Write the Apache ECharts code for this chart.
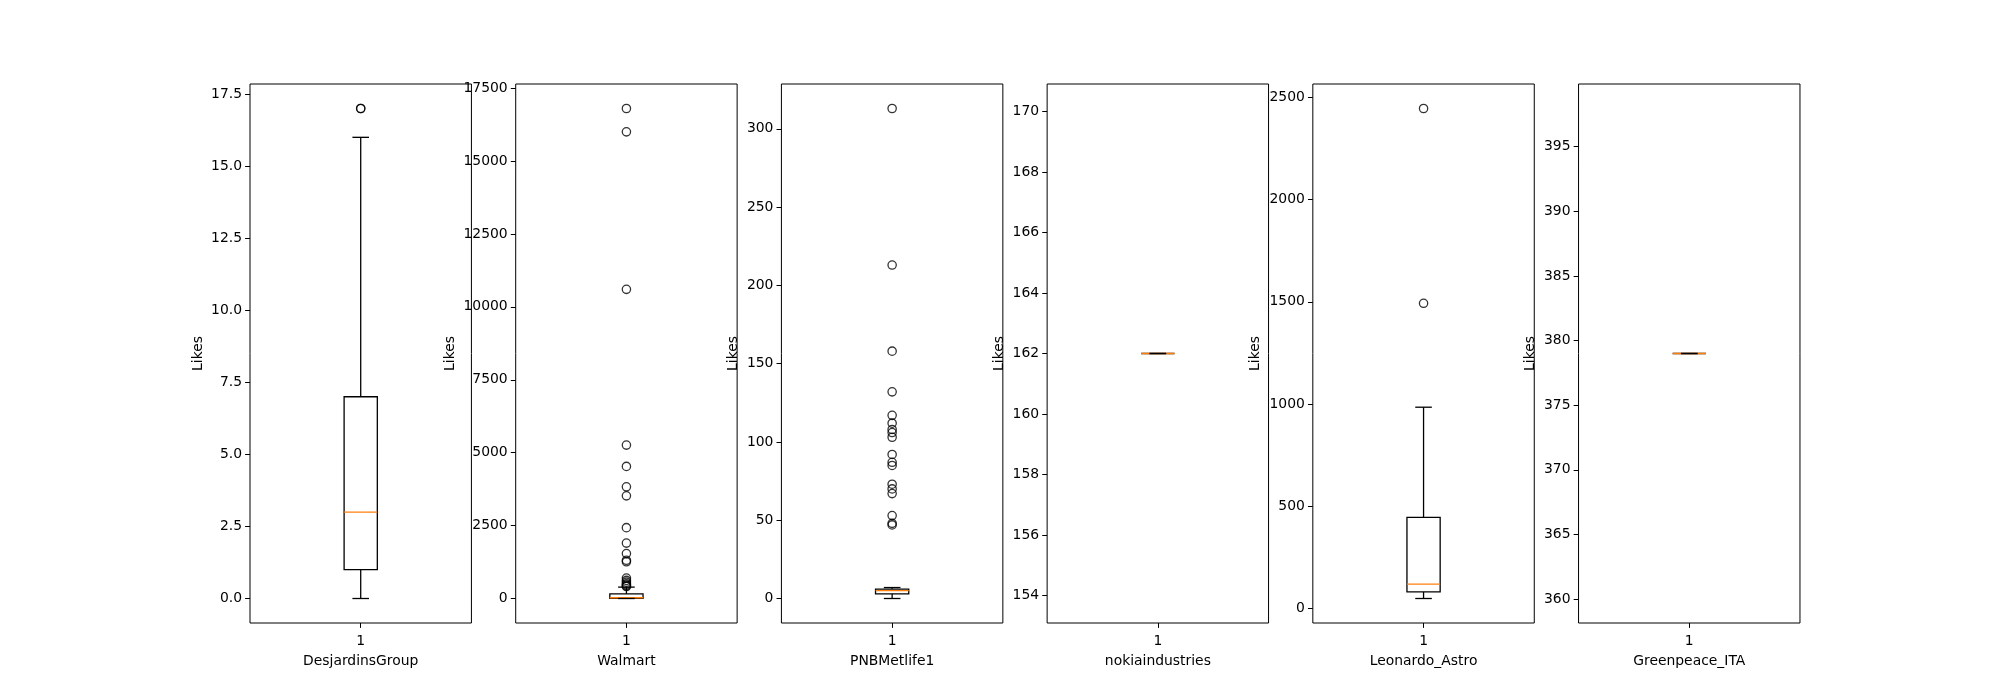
<!DOCTYPE html>
<html><head><meta charset="utf-8">
<script src="https://cdn.jsdelivr.net/npm/echarts@6/dist/echarts.min.js"></script>
<style>html,body{margin:0;padding:0;background:#fff}#c{width:2000px;height:700px}</style>
</head><body><div id="c"></div>
<script>
// ---- data ----
const accounts = ['DesjardinsGroup', 'Walmart', 'PNBMetlife1', 'nokiaindustries', 'Leonardo_Astro', 'Greenpeace_ITA'];
const xCategory = ['1'];
// box stats: [lower whisker, Q1, median, Q3, upper whisker]
const desjardinsBox = [0, 1, 3, 7, 16];
const desjardinsOutliers = [17, 17];
const walmartBox = [0, 5, 25, 160, 390];
const walmartOutliers = [16800, 16000, 10600, 5260, 4530, 3830, 3520, 2430, 1900, 1540, 1310, 1260, 700, 620, 560, 500, 460, 430, 410];
const pnbBox = [0, 3, 5, 6, 7];
const pnbOutliers = [313, 213, 158, 132, 117, 112, 108, 106, 103, 92, 87, 85, 73, 70, 67, 53, 48, 47];
const nokiaBox = [162, 162, 162, 162, 162];
const nokiaOutliers = [];
const leonardoBox = [50, 82, 120, 447, 985];
const leonardoOutliers = [2445, 1493];
const greenpeaceBox = [379, 379, 379, 379, 379];
const greenpeaceOutliers = [];
// y tick labels
const desjardinsTicks = [0, 2.5, 5, 7.5, 10, 12.5, 15, 17.5];
const walmartTicks = [0, 2500, 5000, 7500, 10000, 12500, 15000, 17500];
const pnbTicks = [0, 50, 100, 150, 200, 250, 300];
const nokiaTicks = [154, 156, 158, 160, 162, 164, 166, 168, 170];
const leonardoTicks = [0, 500, 1000, 1500, 2000, 2500];
const greenpeaceTicks = [360, 365, 370, 375, 380, 385, 390, 395];
const tickDecimals = [1, 0, 0, 0, 0, 0];
const yLabel = 'Likes';

const boxes = [desjardinsBox, walmartBox, pnbBox, nokiaBox, leonardoBox, greenpeaceBox];
const outliers = [desjardinsOutliers, walmartOutliers, pnbOutliers, nokiaOutliers, leonardoOutliers, greenpeaceOutliers];
const ticks = [desjardinsTicks, walmartTicks, pnbTicks, nokiaTicks, leonardoTicks, greenpeaceTicks];

// ---- layout ----
const FONT = 'DejaVu Sans';
const FS = 13.9;
const gridLeft0 = 250, gridW = 221.43, gridStep = 265.71, gridTop = 84, gridH = 539;
const yNameGaps = [45, 58, 41, 41, 50, 41];

function limits(box, outs) {
  const all = box.concat(outs);
  let lo = Math.min(...all), hi = Math.max(...all);
  if (lo === hi) { lo -= 0.05 * Math.abs(lo); hi += 0.05 * Math.abs(hi); }
  const m = (hi - lo) * 0.05;
  return [lo - m, hi + m];
}

function renderBox(params, api) {
  const x = api.value(0);
  const lo = api.coord([x, api.value(1)]);
  const q1 = api.coord([x, api.value(2)]);
  const md = api.coord([x, api.value(3)]);
  const q3 = api.coord([x, api.value(4)]);
  const hi = api.coord([x, api.value(5)]);
  const w = api.size([1, 0])[0] * 0.15;
  const cx = lo[0];
  const blk = {stroke: '#000', lineWidth: 1.3, fill: null};
  return {type: 'group', children: [
    {type: 'rect', shape: {x: cx - w / 2, y: q3[1], width: w, height: q1[1] - q3[1]}, style: {stroke: '#000', lineWidth: 1.3, fill: 'transparent'}},
    {type: 'line', shape: {x1: cx - w / 2, y1: md[1], x2: cx + w / 2, y2: md[1]}, style: {stroke: '#ff7f0e', lineWidth: 1.3}},
    {type: 'line', shape: {x1: cx, y1: q1[1], x2: cx, y2: lo[1]}, style: blk},
    {type: 'line', shape: {x1: cx, y1: q3[1], x2: cx, y2: hi[1]}, style: blk},
    {type: 'line', shape: {x1: cx - w / 4, y1: lo[1], x2: cx + w / 4, y2: lo[1]}, style: blk},
    {type: 'line', shape: {x1: cx - w / 4, y1: hi[1], x2: cx + w / 4, y2: hi[1]}, style: blk}
  ]};
}

const grid = [], xAxis = [], yAxis = [], series = [];
accounts.forEach((name, i) => {
  grid.push({left: gridLeft0 + i * gridStep, top: gridTop, width: gridW, height: gridH,
    show: true, borderColor: '#000', borderWidth: 1, backgroundColor: 'transparent'});
  xAxis.push({type: 'category', gridIndex: i, data: xCategory, boundaryGap: true,
    axisLine: {show: false, onZero: false},
    axisTick: {show: true, alignWithLabel: true, length: 4.9, lineStyle: {color: '#000', width: 1}},
    axisLabel: {color: '#000', fontFamily: FONT, fontSize: FS, margin: 11},
    splitLine: {show: false},
    name: name, nameLocation: 'middle', nameGap: 31,
    nameTextStyle: {color: '#000', fontFamily: FONT, fontSize: FS}});
  const lim = limits(boxes[i], outliers[i]);
  const dec = tickDecimals[i];
  yAxis.push({type: 'value', gridIndex: i, min: lim[0], max: lim[1],
    axisLine: {show: false, onZero: false},
    axisTick: {show: true, length: 4.9, customValues: ticks[i], lineStyle: {color: '#000', width: 1}},
    axisLabel: {color: '#000', fontFamily: FONT, fontSize: FS, margin: 8, customValues: ticks[i],
      formatter: v => Number(v).toFixed(dec)},
    splitLine: {show: false},
    name: yLabel, nameLocation: 'middle', nameGap: yNameGaps[i],
    nameTextStyle: {color: '#000', fontFamily: FONT, fontSize: FS}});
  const b = boxes[i];
  series.push({type: 'custom', xAxisIndex: i, yAxisIndex: i, renderItem: renderBox,
    data: [[0, b[0], b[1], b[2], b[3], b[4]]], encode: {x: 0, y: [1, 2, 3, 4, 5]}, silent: true});
  series.push({type: 'scatter', xAxisIndex: i, yAxisIndex: i, symbol: 'circle', symbolSize: 8.3,
    itemStyle: {color: 'transparent', borderColor: '#000', borderWidth: 1.3},
    data: outliers[i].map(v => [0, v]), silent: true});
});

const chart = echarts.init(document.getElementById('c'));
chart.setOption({animation: false, backgroundColor: '#fff', grid, xAxis, yAxis, series});
</script></body></html>
